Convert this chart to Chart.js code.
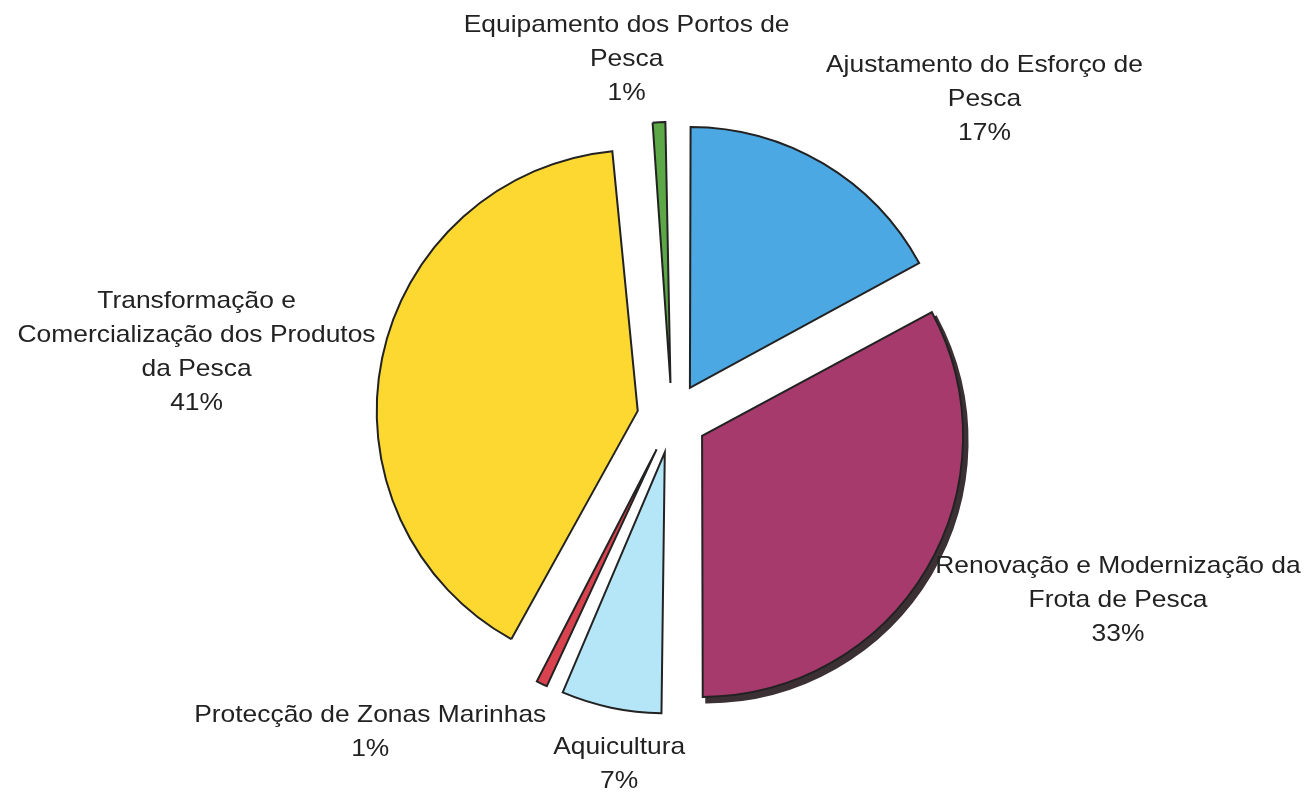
<!DOCTYPE html>
<html>
<head>
<meta charset="utf-8">
<script src="https://cdn.jsdelivr.net/npm/chart.js@4.4.0/dist/chart.umd.min.js"></script>
<style>
    html, body { margin: 0; padding: 0; background: #ffffff; }
    #wrap { width: 1308px; height: 795px; }
</style>
</head>
<body>
<div id="wrap"><canvas id="pieChart"></canvas></div>
<script>
// category names (one entry per text line) and their shares, clockwise from 12 o'clock
var categories = [
    ['Ajustamento do Esforço de', 'Pesca'],
    ['Renovação e Modernização da', 'Frota de Pesca'],
    ['Aquicultura'],
    ['Protecção de Zonas Marinhas'],
    ['Transformação e', 'Comercialização dos Produtos', 'da Pesca'],
    ['Equipamento dos Portos de', 'Pesca']
];
// shares; the labels show them rounded
var percentages = [17.1, 32.9, 6.6, 1.3, 40.7, 1.4];

var sliceColors = ['#4BA8E2', '#A73A6C', '#B4E6F8', '#D9434F', '#FCD830', '#5CA846'];

// layout
var pieRadius = 261;
var explode = 140;          // chart.js moves a slice by offset / 4
var labelDistance = [446, 482, 350, 436, 480, 361];
var labelTurn = [13.7, -8.5, -3.2, 17.7, -3.8, -4.7];   // degrees from slice middle
var lineHeight = 34;
var textStretch = 1.1;

// chart.js grows thin exploded slices, keep every slice the same radius
var evenRadius = {
    id: 'evenRadius',
    afterDatasetsUpdate: function(chart) {
        chart.getDatasetMeta(0).data.forEach(function(arc) {
            var shift = (arc.options.offset || 0) / 4;
            var fix = 1 - Math.sin(Math.min(Math.PI, arc.circumference));
            arc.outerRadius = pieRadius - shift * fix;
        });
    }
};

// dark drop shadow under the Renovação slice
var sliceShadow = {
    id: 'sliceShadow',
    beforeDatasetsDraw: function(chart) {
        var arc = chart.getDatasetMeta(0).data[1];
        var ctx = chart.ctx;
        var saved = arc.options;
        ctx.save();
        ctx.translate(4, 5);
        arc.options = Object.assign({}, saved, {backgroundColor: '#3b3034', borderColor: '#3b3034', borderWidth: 3});
        arc.draw(ctx);
        arc.options = saved;
        ctx.restore();
    }
};

var pieLabels = {
    id: 'pieLabels',
    afterDatasetsDraw: function(chart) {
        var ctx = chart.ctx;
        var arcs = chart.getDatasetMeta(0).data;
        ctx.save();
        ctx.font = '24px "Liberation Sans", Arial, sans-serif';
        ctx.fillStyle = '#222222';
        ctx.textAlign = 'center';
        ctx.textBaseline = 'middle';
        arcs.forEach(function(arc, i) {
            var lines = categories[i].concat([Math.round(percentages[i]) + '%']);
            var a = (arc.startAngle + arc.endAngle) / 2 + labelTurn[i] * Math.PI / 180;
            var cx = arc.x + Math.cos(a) * labelDistance[i];
            var cy = arc.y + Math.sin(a) * labelDistance[i];
            var top = cy - (lines.length - 1) * lineHeight / 2;
            lines.forEach(function(t, k) {
                ctx.save();
                ctx.translate(cx, top + k * lineHeight);
                ctx.scale(textStretch, 1);
                ctx.fillText(t, 0, 0);
                ctx.restore();
            });
        });
        ctx.restore();
    }
};

var ctx = document.getElementById('pieChart').getContext('2d');

var myChart = new Chart(ctx, {
    type: 'pie',
    data: {
        labels: categories.map(function(c) { return c.join(' '); }),
        datasets: [{
            data: percentages,
            backgroundColor: sliceColors,
            borderColor: '#222222',
            borderWidth: 2,
            borderJoinStyle: 'miter',
            offset: explode
        }]
    },
    options: {
        responsive: true,
        maintainAspectRatio: false,
        animation: false,
        radius: pieRadius,
        layout: { padding: { left: 36, top: 41, right: 0, bottom: 0 } },
        plugins: {
            legend: { display: false },
            tooltip: { enabled: false }
        }
    },
    plugins: [evenRadius, sliceShadow, pieLabels]
});
</script>
</body>
</html>
